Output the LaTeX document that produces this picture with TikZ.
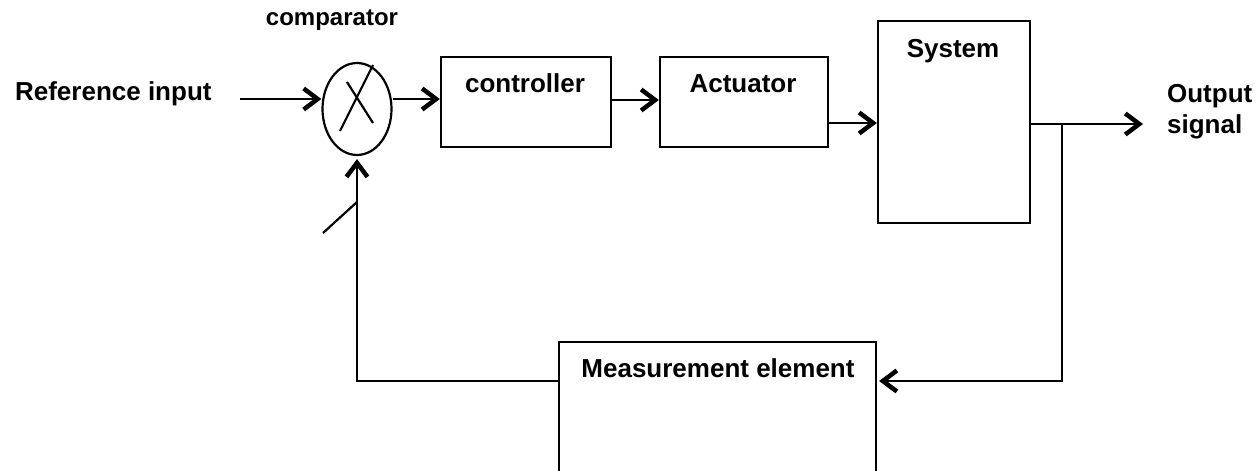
\documentclass[tikz,border=0pt]{standalone}
\usepackage{fontspec}
\setmainfont{Liberation Sans}
\usetikzlibrary{arrows.meta,shapes.geometric,calc}
\begin{document}
\begin{tikzpicture}[x=1pt,y=-1pt,
  line width=2.2pt, line join=miter,
  box/.style={draw, line width=2.2pt, rectangle, inner sep=0pt},
  lbl/.style={font=\fontsize{26}{31}\selectfont\bfseries, inner sep=0pt},
  arr/.style={-{Straight Barb[length=14pt,width=21pt,line width=4.5pt]}},
]
\clip (0,0) rectangle (1259,471);
\fill[white] (0,0) rectangle (1259,471);

% blocks
\node[draw, ellipse, line width=2.2pt, minimum width=69pt, minimum height=92pt, inner sep=0pt] (cmp) at (357,109) {};
\node[box, minimum width=170pt, minimum height=90pt] (ctrl) at (526,102) {};
\node[box, minimum width=168pt, minimum height=90pt] (act) at (744,102) {};
\node[box, minimum width=152pt, minimum height=202pt] (sys) at (954,122) {};
\node[box, minimum width=317pt, minimum height=200pt] (meas) at (717.5,442) {};

% labels
\node[lbl, anchor=base west] (refin) at (14,100) {Reference input};
\node[lbl, anchor=base, font=\fontsize{24}{28}\selectfont\bfseries] (cmpl) at (332,25) {comparator};
\node[lbl, anchor=base] (ctrlt) at (525,92) {controller};
\node[lbl, anchor=base] (actt) at (743,92) {Actuator};
\node[lbl, anchor=base] (syst) at (953,57) {System};
\node[lbl, anchor=base] (meast) at (718,377) {Measurement element};
\node[lbl, anchor=base west] (outt) at (1166,102) {Output};
\node[lbl, anchor=base west] (outs) at (1166,133) {signal};

% cross inside comparator
\draw (340,131) -- (373,65);
\draw (347,82) -- (373,123);

% coordinates
\coordinate (inp) at (240,99);
\coordinate (y1) at (0,100);
\coordinate (y2) at (0,123);
\coordinate (y3) at (0,124);
\coordinate (outp) at (1143,124);
\coordinate (br) at (1062,124);
\coordinate (fbr) at (1062,381);
\coordinate (fbl) at (357,381);
\coordinate (slA) at (323,233);
\coordinate (slB) at (357,202);

% connectors
\draw[arr] (inp) -- (inp -| cmp.west);
\draw[arr] (inp -| cmp.east) -- (inp -| ctrl.west);
\draw[arr] (ctrl.east |- y1) -- (act.west |- y1);
\draw[arr] (act.east |- y2) -- (sys.west |- y2);
\draw[arr] (sys.east |- y3) -- (outp);
\draw[arr] (br) -- (fbr) -- ($(meas.east |- fbr)+(2,0)$);
\draw[arr] (meas.west |- fbr) -- (fbl) -- ($(cmp.south)+(0,3)$);
\draw (slA) -- (slB);
\end{tikzpicture}
\end{document}
